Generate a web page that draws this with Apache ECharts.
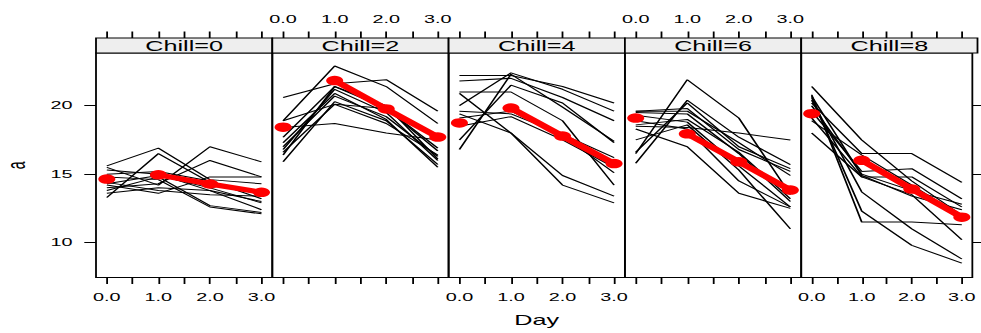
<!DOCTYPE html>
<html>
<head>
<meta charset="utf-8">
<script src="https://cdn.jsdelivr.net/npm/echarts@6/dist/echarts.min.js"></script>
<style>
  html, body { margin: 0; padding: 0; background: #fff; overflow: hidden; }
  #wrap { width: 981px; height: 333px; overflow: hidden; }
  #chart { width: 545px; height: 333px; transform: scaleX(1.8); transform-origin: 0 0; }
</style>
</head>
<body>
<div id="wrap"><div id="chart"></div></div>
<script>
// ---------------- data ----------------
const days = [0, 1, 2, 3];
const xTickValues = [0, 0.5, 1, 1.5, 2, 2.5, 3];
const xLabelValues = [0, 1, 2, 3];
const yLabelValues = [10, 15, 20];
const panelNames = ['Chill=0', 'Chill=2', 'Chill=4', 'Chill=6', 'Chill=8'];

// individual curves (value of a at day 0,1,2,3)
const chill0 = [
  [15.6, 16.9, 14.6, 14.3],
  [15.5, 14.2, 17.0, 15.9],
  [13.3, 16.5, 14.4, 13.5],
  [14.0, 14.3, 16.0, 14.8],
  [15.0, 15.2, 14.5, 13.2],
  [14.2, 13.6, 14.8, 14.8],
  [13.8, 14.8, 12.7, 12.2],
  [14.8, 14.6, 12.6, 12.1],
  [13.6, 14.0, 13.8, 13.0],
  [14.3, 14.9, 14.0, 12.9],
  [15.3, 15.0, 13.8, 12.4],
  [14.4, 13.8, 13.5, 13.4]
];
const chill2 = [
  [18.9, 22.9, 21.4, 18.7],
  [20.6, 21.6, 21.9, 19.6],
  [18.4, 18.7, 18.0, 17.5],
  [17.7, 21.4, 19.8, 16.7],
  [16.8, 21.2, 19.5, 16.0],
  [17.0, 20.7, 19.2, 16.3],
  [15.9, 20.3, 18.9, 15.7],
  [16.6, 20.1, 18.7, 16.4],
  [18.9, 20.1, 19.8, 16.9],
  [17.3, 20.9, 19.0, 15.5],
  [16.4, 21.4, 20.0, 16.1]
];
const chill4 = [
  [22.2, 22.2, 21.4, 20.2],
  [21.8, 22.0, 20.6, 18.9],
  [20.0, 22.4, 21.2, 19.6],
  [16.8, 22.3, 19.9, 17.4],
  [17.5, 21.5, 20.2, 17.3],
  [20.9, 18.0, 14.9, 13.4],
  [19.4, 18.0, 14.2, 12.9],
  [19.1, 19.6, 17.8, 15.1],
  [18.5, 19.2, 17.5, 15.5],
  [21.0, 21.0, 18.9, 14.2],
  [19.6, 19.4, 17.9, 16.2]
];
const chill6 = [
  [16.5, 21.9, 19.1, 13.5],
  [15.8, 20.4, 17.7, 15.7],
  [16.6, 20.2, 17.0, 15.4],
  [19.6, 19.6, 17.3, 14.9],
  [19.5, 19.4, 16.5, 13.0],
  [19.3, 18.8, 15.6, 12.6],
  [18.9, 18.3, 14.5, 12.6],
  [18.5, 18.4, 18.0, 17.5],
  [18.3, 17.0, 13.6, 12.5],
  [17.5, 18.6, 15.3, 11.0],
  [19.6, 19.8, 16.8, 15.2],
  [18.6, 19.0, 16.6, 13.2]
];
const chill8 = [
  [21.4, 17.5, 14.5, 12.0],
  [20.8, 11.5, 11.5, 11.3],
  [20.6, 12.3, 9.8, 8.5],
  [20.4, 13.7, 11.0, 8.8],
  [18.0, 14.8, 13.5, 10.2],
  [20.2, 16.5, 16.5, 14.4],
  [19.6, 15.2, 15.4, 13.2],
  [19.1, 14.8, 14.8, 12.6],
  [20.0, 15.0, 13.8, 12.8],
  [20.7, 14.9, 13.4, 12.4],
  [18.9, 16.4, 14.2, 11.9]
];
// mean curve (red)
const mean0 = [14.64, 14.95, 14.28, 13.67];
const mean2 = [18.43, 21.84, 19.76, 17.71];
const mean4 = [18.74, 19.83, 17.78, 15.77];
const mean6 = [19.10, 17.95, 15.90, 13.84];
const mean8 = [19.42, 16.01, 13.91, 11.86];

const panelCurves = [chill0, chill2, chill4, chill6, chill8];
const panelMeans = [mean0, mean2, mean4, mean6, mean8];

// ---------------- layout (original pixel units, stretched by S) ----------------
const S = 1.8;
const P_LEFT = 96, P_W = 176.3, P_TOP = 53, P_BOTTOM = 277.5, STRIP_H = 15;
const X_MIN = -0.21, X_MAX = 3.21, Y_MIN = 7.45, Y_MAX = 23.85;
const FONT = 'Liberation Sans, Arial, Helvetica, sans-serif';

const grids = [], xAxes = [], yAxes = [], series = [], graphics = [];

panelNames.forEach((name, i) => {
  const left = (P_LEFT + i * P_W) / S;
  const width = P_W / S;
  grids.push({
    left: left, top: P_TOP, width: width, height: P_BOTTOM - P_TOP,
    show: true, borderColor: '#000', borderWidth: 1, backgroundColor: 'transparent'
  });
  const xBase = {
    gridIndex: i, type: 'value', min: X_MIN, max: X_MAX,
    axisLine: { show: false, onZero: false },
    splitLine: { show: false },
    axisTick: { show: true, length: 6.5, customValues: xTickValues, lineStyle: { color: '#000', width: 1 } }
  };
  xAxes.push(Object.assign({}, xBase, {
    position: 'bottom',
    axisLabel: { show: i % 2 === 0, customValues: xLabelValues, formatter: v => Number(v).toFixed(1),
      margin: 14, fontSize: 11, color: '#000', fontFamily: FONT },
    name: i === 2 ? 'Day' : '', nameLocation: 'middle', nameGap: 36,
    nameTextStyle: { fontSize: 14, color: '#000', fontFamily: FONT }
  }));
  xAxes.push(Object.assign({}, xBase, {
    position: 'top', offset: STRIP_H,
    axisLabel: { show: i % 2 === 1, customValues: xLabelValues, formatter: v => Number(v).toFixed(1),
      margin: 13, fontSize: 11, color: '#000', fontFamily: FONT }
  }));
  yAxes.push({
    gridIndex: i, type: 'value', min: Y_MIN, max: Y_MAX, position: 'left',
    axisLine: { show: false, onZero: false }, splitLine: { show: false },
    axisTick: { show: i === 0, length: 6.5, customValues: yLabelValues, lineStyle: { color: '#000', width: 1 } },
    axisLabel: { show: i === 0, customValues: yLabelValues, margin: 13, fontSize: 11, color: '#000', fontFamily: FONT },
    name: i === 0 ? 'a' : '', nameLocation: 'middle', nameGap: 37, nameRotate: 90,
    nameTextStyle: { fontSize: 14, color: '#000', fontFamily: FONT }
  });

  // strip
  graphics.push({
    type: 'rect', z: 10,
    shape: { x: left, y: P_TOP - STRIP_H, width: width, height: STRIP_H },
    style: { fill: '#eeeeee', stroke: '#000', lineWidth: 1 }
  });
  graphics.push({
    type: 'text', z: 11,
    style: { text: name, x: left + width / 2, y: P_TOP - STRIP_H / 2 + 0.5,
      textAlign: 'center', textVerticalAlign: 'middle', fontSize: 14, fontFamily: FONT, fill: '#000' }
  });

  // individual curves
  panelCurves[i].forEach(curve => {
    series.push({
      type: 'line', xAxisIndex: 2 * i, yAxisIndex: i, silent: true, animation: false,
      symbol: 'none', z: 2,
      lineStyle: { color: '#000', width: 1 },
      data: days.map((d, k) => [d, curve[k]])
    });
  });
  // mean curve: day0 point alone, days 1-3 connected
  const m = panelMeans[i];
  series.push({
    type: 'scatter', xAxisIndex: 2 * i, yAxisIndex: i, silent: true, animation: false, z: 5,
    symbol: 'circle', symbolSize: 9.5, itemStyle: { color: '#ff0000', opacity: 1 },
    data: [[days[0], m[0]]]
  });
  series.push({
    type: 'line', xAxisIndex: 2 * i, yAxisIndex: i, silent: true, animation: false, z: 5,
    symbol: 'circle', symbolSize: 9.5, showSymbol: true,
    itemStyle: { color: '#ff0000', opacity: 1 }, lineStyle: { color: '#ff0000', width: 5, opacity: 1 },
    data: days.slice(1).map((d, k) => [d, m[k + 1]])
  });
});

// right-side ticks on last panel
yAxes.push({
  gridIndex: 4, type: 'value', min: Y_MIN, max: Y_MAX, position: 'right',
  axisLine: { show: false, onZero: false }, splitLine: { show: false },
  axisTick: { show: true, length: 6.5, customValues: yLabelValues, lineStyle: { color: '#000', width: 1 } },
  axisLabel: { show: false }
});

const chart = echarts.init(document.getElementById('chart'), null, { renderer: 'svg', width: 545, height: 333 });
chart.setOption({
  backgroundColor: '#fff',
  animation: false,
  grid: grids,
  xAxis: xAxes,
  yAxis: yAxes,
  series: series,
  graphic: graphics
});
</script>
</body>
</html>
